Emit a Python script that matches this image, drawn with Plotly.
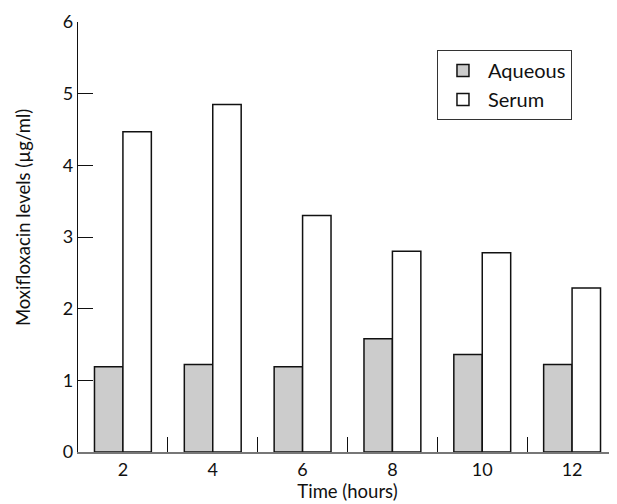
import plotly.graph_objects as go

hours = [2, 4, 6, 8, 10, 12]
aqueous = [1.19, 1.22, 1.19, 1.58, 1.36, 1.22]
serum = [4.47, 4.85, 3.30, 2.80, 2.78, 2.29]
y_ticks = [0, 1, 2, 3, 4, 5, 6]
group_bounds = [3, 5, 7, 9, 11]

FONT = "Lato"
bw = 0.633

fig = go.Figure()
fig.add_trace(go.Bar(x=hours, y=aqueous, name="Aqueous", width=bw, offset=-bw,
                     legendgroup="a",
                     marker=dict(color="#cccccc", line=dict(color="#111111", width=1.5))))
fig.add_trace(go.Bar(x=hours, y=serum, name="Serum", width=bw, offset=0,
                     legendgroup="s",
                     marker=dict(color="#ffffff", line=dict(color="#111111", width=1.5))))

# page body has an 8px default margin, so the figure is sized 8px smaller
fig.update_layout(
    width=609, height=496,
    margin=dict(l=70, r=0, t=14, b=52),
    paper_bgcolor="white", plot_bgcolor="white",
    barmode="overlay",
    font=dict(family=FONT, size=18, color="#111111"),
    legend=dict(x=0.666, y=0.935, xanchor="left", yanchor="top",
                bordercolor="#333333", borderwidth=1, bgcolor="white",
                font=dict(size=20), traceorder="normal", tracegroupgap=4,
                itemwidth=40),
    xaxis=dict(range=[1, 13], tickvals=hours, ticktext=[str(h) for h in hours],
               ticks="", showline=True, linecolor="#777777", linewidth=2,
               showgrid=False, zeroline=False, automargin=False,
               title=dict(text="Time (hours)", font=dict(size=18.5), standoff=4),
               minor=dict(tickvals=group_bounds, ticks="inside", ticklen=15,
                          tickcolor="#111111", tickwidth=1.3, showgrid=False)),
    yaxis=dict(range=[0, 6], tickvals=y_ticks, ticks="inside", ticklen=15,
               tickcolor="#111111", tickwidth=1.3,
               showline=True, linecolor="#111111", linewidth=1.3,
               showgrid=False, zeroline=False, automargin=False),
    annotations=[dict(text="Moxifloxacin levels (µg/ml)", textangle=-90,
                      xref="paper", yref="paper", x=-0.102, y=0.544,
                      xanchor="center", yanchor="middle", showarrow=False,
                      font=dict(size=18.5))],
)

fig.write_html("out.html")
